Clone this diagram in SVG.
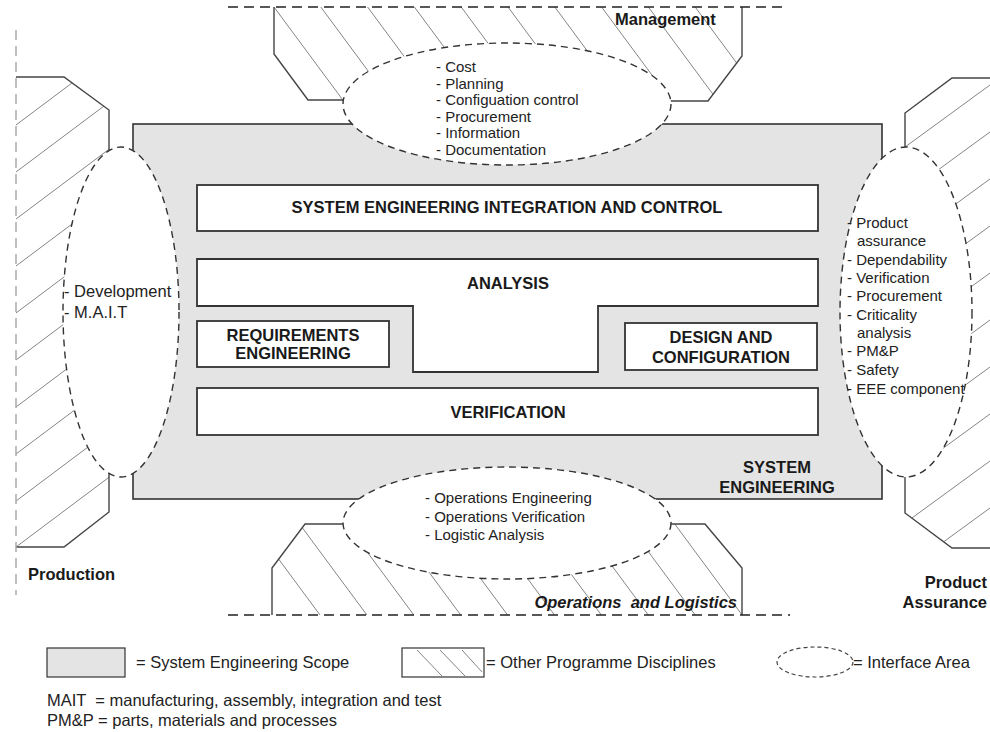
<svg xmlns="http://www.w3.org/2000/svg" width="990" height="732" viewBox="0 0 990 732">
<style>
  .bg { fill: #ffffff; }
  .scope { fill: #e4e4e4; stroke: #333; stroke-width: 1.6; }
  .box { fill: #ffffff; stroke: #333; stroke-width: 1.8; }
  .edge { fill: none; stroke: #444; stroke-width: 1.4; }
  .hatch { stroke: #777; stroke-width: 0.9; }
  .iface { fill: #ffffff; stroke: #333; stroke-width: 1.4; stroke-dasharray: 7 5; }
  .bound { fill: none; stroke: #222; stroke-width: 1.5; stroke-dasharray: 10 6; }
  .boundl { fill: none; stroke: #aaa; stroke-width: 1.5; stroke-dasharray: 10 6; }
  .t { font-family: "Liberation Sans", Arial, sans-serif; font-size: 15px; fill: #222; }
  .tl { font-family: "Liberation Sans", Arial, sans-serif; font-size: 16.5px; fill: #222; }
  .b { font-family: "Liberation Sans", Arial, sans-serif; font-size: 16.5px; font-weight: bold; fill: #1a1a1a; }
  .c { text-anchor: middle; }
  .e { text-anchor: end; }
</style>
<defs>
  <clipPath id="clipTop"><polygon points="274,7 742,7 742,56 708,101 308,101 274,54"/></clipPath>
  <clipPath id="clipLeft"><polygon points="16,77 64,77 109,110 109,512 64,547 16,547"/></clipPath>
  <clipPath id="clipRight"><polygon points="990,78 952,78 905,113 905,513 952,548 990,548"/></clipPath>
  <clipPath id="clipBottom"><polygon points="305,524 705,524 742,568 742,615 272,615 272,568"/></clipPath>
</defs>
<rect class="bg" x="0" y="0" width="990" height="732"/>

<g id="system-engineering">
  <rect class="scope" x="133" y="124" width="749" height="375"/>
  <text class="b c" x="777" y="473">SYSTEM</text>
  <text class="b c" x="777" y="493">ENGINEERING</text>
</g>

<g id="management">
  <g clip-path="url(#clipTop)" class="hatch">
    <line x1="274" y1="7" x2="348" y2="107"/>
    <line x1="320.8" y1="7" x2="394.8" y2="107"/>
    <line x1="367.6" y1="7" x2="441.6" y2="107"/>
    <line x1="414.4" y1="7" x2="488.4" y2="107"/>
    <line x1="461.2" y1="7" x2="535.2" y2="107"/>
    <line x1="508" y1="7" x2="582" y2="107"/>
    <line x1="554.8" y1="7" x2="628.8" y2="107"/>
    <line x1="601.6" y1="7" x2="675.6" y2="107"/>
    <line x1="648.4" y1="7" x2="722.4" y2="107"/>
    <line x1="695.2" y1="7" x2="769.2" y2="107"/>
  </g>
  <polyline class="edge" points="343,100 308,100 274,54 274,7"/>
  <polyline class="edge" points="671,101 708,101 742,56 742,7"/>
  <line class="bound" x1="228" y1="7" x2="785" y2="7"/>
  <text class="b" x="615" y="25">Management</text>
</g>

<g id="production">
  <g clip-path="url(#clipLeft)" class="hatch">
    <line x1="16" y1="125" x2="146" y2="27.5"/>
    <line x1="16" y1="172" x2="146" y2="74.5"/>
    <line x1="16" y1="219" x2="146" y2="121.5"/>
    <line x1="16" y1="266" x2="146" y2="168.5"/>
    <line x1="16" y1="313" x2="146" y2="215.5"/>
    <line x1="16" y1="360" x2="146" y2="262.5"/>
    <line x1="16" y1="407" x2="146" y2="309.5"/>
    <line x1="16" y1="454" x2="146" y2="356.5"/>
    <line x1="16" y1="501" x2="146" y2="403.5"/>
    <line x1="16" y1="547" x2="146" y2="449.5"/>
  </g>
  <polyline class="edge" points="16,77 64,77 109,110 109,151"/>
  <polyline class="edge" points="109,473 109,512 64,547 16,547"/>
  <line class="boundl" x1="16" y1="30" x2="16" y2="595"/>
  <text class="b" x="28" y="580">Production</text>
</g>

<g id="product-assurance">
  <g clip-path="url(#clipRight)" class="hatch">
    <line x1="990" y1="85" x2="860" y2="179.9"/>
    <line x1="990" y1="132" x2="860" y2="226.9"/>
    <line x1="990" y1="179" x2="860" y2="273.9"/>
    <line x1="990" y1="226" x2="860" y2="320.9"/>
    <line x1="990" y1="273" x2="860" y2="367.9"/>
    <line x1="990" y1="320" x2="860" y2="414.9"/>
    <line x1="990" y1="367" x2="860" y2="461.9"/>
    <line x1="990" y1="414" x2="860" y2="508.9"/>
    <line x1="990" y1="461" x2="860" y2="555.9"/>
    <line x1="990" y1="508" x2="860" y2="602.9"/>
  </g>
  <polyline class="edge" points="990,78 952,78 905,113 905,147"/>
  <polyline class="edge" points="905,477 905,513 952,548 990,548"/>
  <text class="b e" x="987" y="588">Product</text>
  <text class="b e" x="987" y="608">Assurance</text>
</g>

<g id="operations-logistics">
  <g clip-path="url(#clipBottom)" class="hatch">
    <line x1="246" y1="515" x2="320" y2="615"/>
    <line x1="292.9" y1="515" x2="366.9" y2="615"/>
    <line x1="339.8" y1="515" x2="413.8" y2="615"/>
    <line x1="386.7" y1="515" x2="460.7" y2="615"/>
    <line x1="433.6" y1="515" x2="507.6" y2="615"/>
    <line x1="480.5" y1="515" x2="554.5" y2="615"/>
    <line x1="527.4" y1="515" x2="601.4" y2="615"/>
    <line x1="574.3" y1="515" x2="648.3" y2="615"/>
    <line x1="621.2" y1="515" x2="695.2" y2="615"/>
    <line x1="668.1" y1="515" x2="742.1" y2="615"/>
  </g>
  <polyline class="edge" points="343,524 305,524 272,568 272,615"/>
  <polyline class="edge" points="671,524 705,524 742,568 742,615"/>
  <line class="bound" x1="228" y1="615" x2="790" y2="615"/>
  <text class="b e" x="737" y="608" font-style="italic" style="white-space:pre">Operations  and Logistics</text>
</g>

<g id="interface-management">
  <ellipse class="iface" cx="507" cy="104" rx="164" ry="61"/>
  <text class="t" x="436" y="72">- Cost</text>
  <text class="t" x="436" y="88.6">- Planning</text>
  <text class="t" x="436" y="105.2">- Configuation control</text>
  <text class="t" x="436" y="121.8">- Procurement</text>
  <text class="t" x="436" y="138.4">- Information</text>
  <text class="t" x="436" y="155">- Documentation</text>
</g>

<g id="interface-production">
  <ellipse class="iface" cx="121" cy="312" rx="58" ry="165"/>
  <text class="tl" x="64" y="297">- Development</text>
  <text class="tl" x="64" y="318">- M.A.I.T</text>
</g>

<g id="interface-product-assurance">
  <ellipse class="iface" cx="906" cy="312" rx="66" ry="165"/>
  <text class="t" x="847" y="228">- Product</text>
  <text class="t" x="857" y="246">assurance</text>
  <text class="t" x="847" y="265">- Dependability</text>
  <text class="t" x="847" y="283">- Verification</text>
  <text class="t" x="847" y="301">- Procurement</text>
  <text class="t" x="847" y="320">- Criticality</text>
  <text class="t" x="857" y="338">analysis</text>
  <text class="t" x="847" y="356">- PM&amp;P</text>
  <text class="t" x="847" y="375">- Safety</text>
  <text class="t" x="847" y="394">- EEE component</text>
</g>

<g id="interface-operations">
  <ellipse class="iface" cx="507" cy="523" rx="164" ry="56"/>
  <text class="t" x="425" y="503">- Operations Engineering</text>
  <text class="t" x="425" y="521.5">- Operations Verification</text>
  <text class="t" x="425" y="540">- Logistic Analysis</text>
</g>

<g id="seic">
  <rect class="box" x="197" y="185" width="621" height="46"/>
  <text class="b c" x="507" y="213">SYSTEM ENGINEERING INTEGRATION AND CONTROL</text>
</g>

<g id="analysis">
  <polygon class="box" points="197,259 818,259 818,306 598,306 598,372 413,372 413,306 197,306"/>
  <text class="b c" x="508" y="289">ANALYSIS</text>
</g>

<g id="requirements">
  <rect class="box" x="197" y="321" width="192" height="46"/>
  <text class="b c" x="293" y="341">REQUIREMENTS</text>
  <text class="b c" x="293" y="359">ENGINEERING</text>
</g>

<g id="design">
  <rect class="box" x="625" y="323" width="192" height="47"/>
  <text class="b c" x="721" y="343">DESIGN AND</text>
  <text class="b c" x="721" y="363">CONFIGURATION</text>
</g>

<g id="verification">
  <rect class="box" x="197" y="388" width="621" height="47"/>
  <text class="b c" x="508" y="418">VERIFICATION</text>
</g>

<g id="legend">
  <rect class="scope" x="47" y="648" width="78" height="29" style="stroke-width:1.2"/>
  <text class="tl" x="136" y="668">= System Engineering Scope</text>
  <rect x="402" y="648" width="82" height="29" fill="#fff" stroke="#333" stroke-width="1.2"/>
  <line class="hatch" x1="417" y1="650" x2="442" y2="676"/>
  <line class="hatch" x1="440" y1="650" x2="465" y2="676"/>
  <line class="hatch" x1="462" y1="650" x2="482" y2="672"/>
  <text class="tl" x="486" y="668">= Other Programme Disciplines</text>
  <ellipse cx="815" cy="662" rx="38" ry="15" fill="none" stroke="#444" stroke-width="1.2" stroke-dasharray="4 3"/>
  <text class="tl" x="853" y="668">= Interface Area</text>
  <text class="tl" x="47" y="706" style="white-space:pre">MAIT  = manufacturing, assembly, integration and test</text>
  <text class="tl" x="47" y="726">PM&amp;P = parts, materials and processes</text>
</g>
</svg>
